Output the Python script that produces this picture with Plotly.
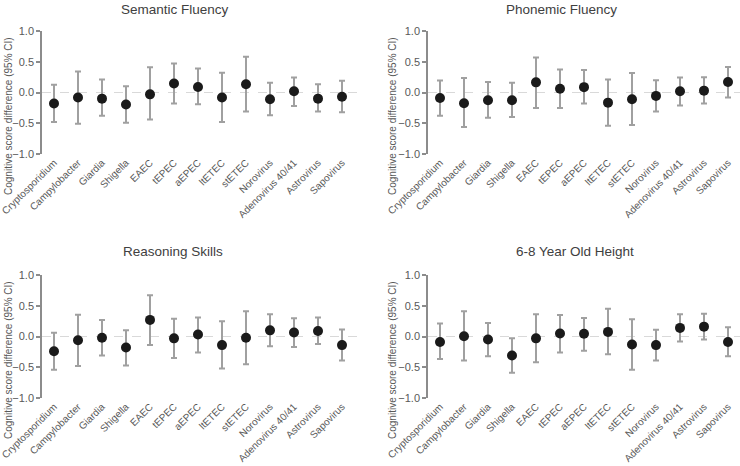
import plotly.graph_objects as go

categories = ["Cryptosporidium", "Campylobacter", "Giardia", "Shigella", "EAEC", "tEPEC",
              "aEPEC", "ltETEC", "stETEC", "Norovirus", "Adenovirus 40/41", "Astrovirus", "Sapovirus"]

panel_titles = ["Semantic Fluency", "Phonemic Fluency", "Reasoning Skills", "6-8 Year Old Height"]

semantic_est = [-0.18, -0.08, -0.10, -0.195, -0.03, 0.146, 0.09, -0.08, 0.135, -0.11, 0.02, -0.10, -0.07]
semantic_low = [-0.48, -0.51, -0.38, -0.49, -0.44, -0.18, -0.19, -0.48, -0.31, -0.37, -0.22, -0.31, -0.32]
semantic_high = [0.125, 0.34, 0.21, 0.10, 0.41, 0.47, 0.39, 0.32, 0.58, 0.16, 0.245, 0.135, 0.19]

phonemic_est = [-0.09, -0.175, -0.125, -0.125, 0.165, 0.06, 0.087, -0.165, -0.11, -0.055, 0.02, 0.03, 0.17]
phonemic_low = [-0.38, -0.56, -0.41, -0.40, -0.25, -0.25, -0.18, -0.54, -0.53, -0.31, -0.21, -0.18, -0.08]
phonemic_high = [0.195, 0.235, 0.17, 0.16, 0.57, 0.375, 0.366, 0.213, 0.317, 0.20, 0.245, 0.25, 0.415]

reasoning_est = [-0.24, -0.06, -0.02, -0.18, 0.27, -0.03, 0.033, -0.14, -0.02, 0.10, 0.065, 0.09, -0.14]
reasoning_low = [-0.54, -0.48, -0.31, -0.47, -0.14, -0.35, -0.26, -0.52, -0.45, -0.16, -0.17, -0.12, -0.39]
reasoning_high = [0.06, 0.355, 0.27, 0.10, 0.67, 0.29, 0.31, 0.25, 0.41, 0.36, 0.295, 0.31, 0.115]

height_est = [-0.09, 0.005, -0.05, -0.31, -0.03, 0.05, 0.045, 0.075, -0.13, -0.14, 0.14, 0.16, -0.09]
height_low = [-0.365, -0.39, -0.32, -0.59, -0.42, -0.26, -0.23, -0.29, -0.54, -0.39, -0.08, -0.05, -0.32]
height_high = [0.21, 0.41, 0.22, -0.03, 0.36, 0.35, 0.30, 0.45, 0.28, 0.11, 0.36, 0.37, 0.15]

y_ticks = [-1.0, -0.5, 0.0, 0.5, 1.0]
y_title = "Cognitive score difference (95% CI)"

panels = [
    (semantic_est, semantic_low, semantic_high),
    (phonemic_est, phonemic_low, phonemic_high),
    (reasoning_est, reasoning_low, reasoning_high),
    (height_est, height_low, height_high),
]

W, H = 740, 466
FONT = "Liberation Sans, Arial, sans-serif"
TXT = "#595959"
AX = "#8C8C8C"

# pixel layout: (x_left, x_right, y_top, y_bottom, xrange_max)
geom = [
    (42, 363.6, 31, 154, 12.9),
    (428, 740, 31, 154, 12.5),
    (42, 363.6, 275, 398, 12.9),
    (428, 740, 275, 398, 12.5),
]
title_pos = [(175, 9), (561, 9), (173, 251), (575, 251)]
ytitle_pos = [(8, 116), (392, 116), (8, 360), (392, 360)]

fig = go.Figure()
annotations = []
shapes = []
for i, ((est, low, high), (xl, xr, yt, yb, xmax)) in enumerate(zip(panels, geom)):
    n = i + 1
    xa = "x" if n == 1 else f"x{n}"
    ya = "y" if n == 1 else f"y{n}"
    plus = [h - e for h, e in zip(high, est)]
    minus = [e - l for e, l in zip(est, low)]
    fig.add_trace(go.Scatter(
        x=categories, y=est, mode="markers", xaxis=xa, yaxis=ya,
        marker=dict(color="#1A1A1A", size=10),
        error_y=dict(type="data", symmetric=False, array=plus, arrayminus=minus,
                     color="#A0A0A0", thickness=2, width=3),
        showlegend=False, cliponaxis=False,
    ))
    xkey = "xaxis" if n == 1 else f"xaxis{n}"
    ykey = "yaxis" if n == 1 else f"yaxis{n}"
    fig.layout[xkey] = dict(
        domain=[xl / W, xr / W], anchor=ya, range=[-0.5, xmax], automargin=False,
        showline=False, showgrid=False, zeroline=False, ticks="",
        tickangle=-45, tickfont=dict(family=FONT, size=10, color=TXT),
        categoryorder="array", categoryarray=categories, fixedrange=True,
    )
    fig.layout[ykey] = dict(
        domain=[1 - yb / H, 1 - yt / H], anchor=xa, range=[-1, 1], automargin=False,
        showline=True, linecolor=AX, linewidth=1.5, showgrid=False, zeroline=False,
        ticks="outside", ticklen=4, tickcolor=AX, tickwidth=1.5,
        tickvals=y_ticks, tickformat=".1f",
        tickfont=dict(family=FONT, size=11, color=TXT), fixedrange=True,
    )
    shapes.append(dict(type="line", xref=f"{xa} domain", yref=ya, x0=0, x1=1, y0=0, y1=0,
                       line=dict(color="#D9D9D9", width=1, dash="dash"), layer="below"))
    tx, ty = title_pos[i]
    annotations.append(dict(text=panel_titles[i], xref="paper", yref="paper",
                            x=tx / W, y=1 - ty / H, xanchor="center", yanchor="middle",
                            showarrow=False, font=dict(family=FONT, size=13.5, color="#404040")))
    ax_, ay_ = ytitle_pos[i]
    annotations.append(dict(text=y_title, xref="paper", yref="paper",
                            x=ax_ / W, y=1 - ay_ / H, xanchor="center", yanchor="middle",
                            textangle=-90, showarrow=False,
                            font=dict(family=FONT, size=10, color=TXT)))

fig.update_layout(
    template="none",
    width=W, height=H, margin=dict(l=0, r=0, t=0, b=0, autoexpand=False),
    paper_bgcolor="white", plot_bgcolor="white",
    annotations=annotations, shapes=shapes,
)
fig.write_html("out.html", config={"displayModeBar": False},
               post_script="document.body.style.margin='0';")
